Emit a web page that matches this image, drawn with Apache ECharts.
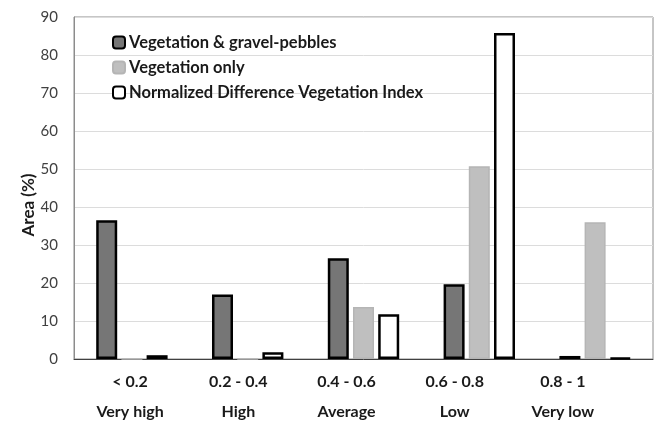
<!DOCTYPE html>
<html><head><meta charset="utf-8">
<script src="https://cdn.jsdelivr.net/npm/echarts@6/dist/echarts.min.js"></script>
<style>html,body{margin:0;padding:0;background:#fff}#c{width:654px;height:427px}</style>
</head><body><div id="c"></div>
<script>
const ranges = ['< 0.2', '0.2 - 0.4', '0.4 - 0.6', '0.6 - 0.8', '0.8 - 1'];
const classes = ['Very high', 'High', 'Average', 'Low', 'Very low'];
const vegGravel = [36.5, 17.0, 26.5, 19.7, 0.8];
const vegOnly = [0, 0, 13.7, 50.7, 36.0];
const ndvi = [1.0, 1.8, 11.8, 85.8, 0.3];
const seriesNames = ['Vegetation & gravel-pebbles', 'Vegetation only', 'Normalized Difference Vegetation Index'];

const FONT = 'Lato, "Open Sans", sans-serif';
const chart = echarts.init(document.getElementById('c'), null, {renderer: 'canvas'});
chart.setOption({
  animation: false,
  backgroundColor: '#fff',
  textStyle: {fontFamily: FONT},
  grid: [
    {left: 74, right: 1, top: 17, bottom: 68, show: true, borderColor: '#8c8c8c', borderWidth: 1},
    {left: 76, width: 541, top: 359, height: 1, show: false}
  ],
  legend: {
    orient: 'vertical', left: 107, top: 29, itemGap: 8,
    itemWidth: 12, itemHeight: 12,
    textStyle: {fontFamily: FONT, fontWeight: 'bold', fontSize: 16.5, color: '#1a1a1a', padding: [0, 0, 0, -1]},
    data: seriesNames
  },
  xAxis: [
    {type: 'category', gridIndex: 0, data: ranges,
     axisLine: {lineStyle: {color: '#404040', width: 1}},
     axisTick: {show: false}, axisLabel: {show: false}},
    {type: 'category', gridIndex: 1, data: ranges,
     axisLine: {show: false}, axisTick: {show: false},
     axisLabel: {
       margin: 7, interval: 0,
       formatter: (v, i) => '{a|' + v + '}\n{b|' + classes[i] + '}',
       rich: {
         a: {fontFamily: FONT, fontWeight: 'bold', fontSize: 16, color: '#1a1a1a', lineHeight: 30},
         b: {fontFamily: FONT, fontWeight: 'bold', fontSize: 16, color: '#1a1a1a', lineHeight: 30}
       }
     }}
  ],
  yAxis: [
    {type: 'value', gridIndex: 0, min: 0, max: 90, interval: 10,
     name: 'Area (%)', nameLocation: 'middle', nameGap: 37, nameRotate: 90,
     nameMoveOverlap: false,
     nameTextStyle: {fontFamily: FONT, fontWeight: 'bold', fontSize: 17, color: '#1a1a1a', padding: [0, 34, 0, 0]},
     axisLine: {show: true, lineStyle: {color: '#8c8c8c'}},
     axisTick: {show: false},
     axisLabel: {fontFamily: FONT, fontSize: 15, color: '#404040', margin: 16},
     splitLine: {lineStyle: {color: '#dcdcdc', width: 1}}},
    {type: 'value', gridIndex: 1, show: false}
  ],
  series: [
    {name: seriesNames[0], type: 'bar', data: vegGravel, barWidth: 21, barGap: '20%',
     itemStyle: {color: '#767676', borderColor: '#000', borderWidth: 2.5}},
    {name: seriesNames[1], type: 'bar', data: vegOnly, barWidth: 21, barGap: '20%',
     itemStyle: {color: '#bfbfbf', borderColor: '#b5b5b5', borderWidth: 1.5}},
    {name: seriesNames[2], type: 'bar', data: ndvi, barWidth: 21, barGap: '20%',
     itemStyle: {color: '#ffffff', borderColor: '#000', borderWidth: 2.5}}
  ]
});
</script></body></html>
